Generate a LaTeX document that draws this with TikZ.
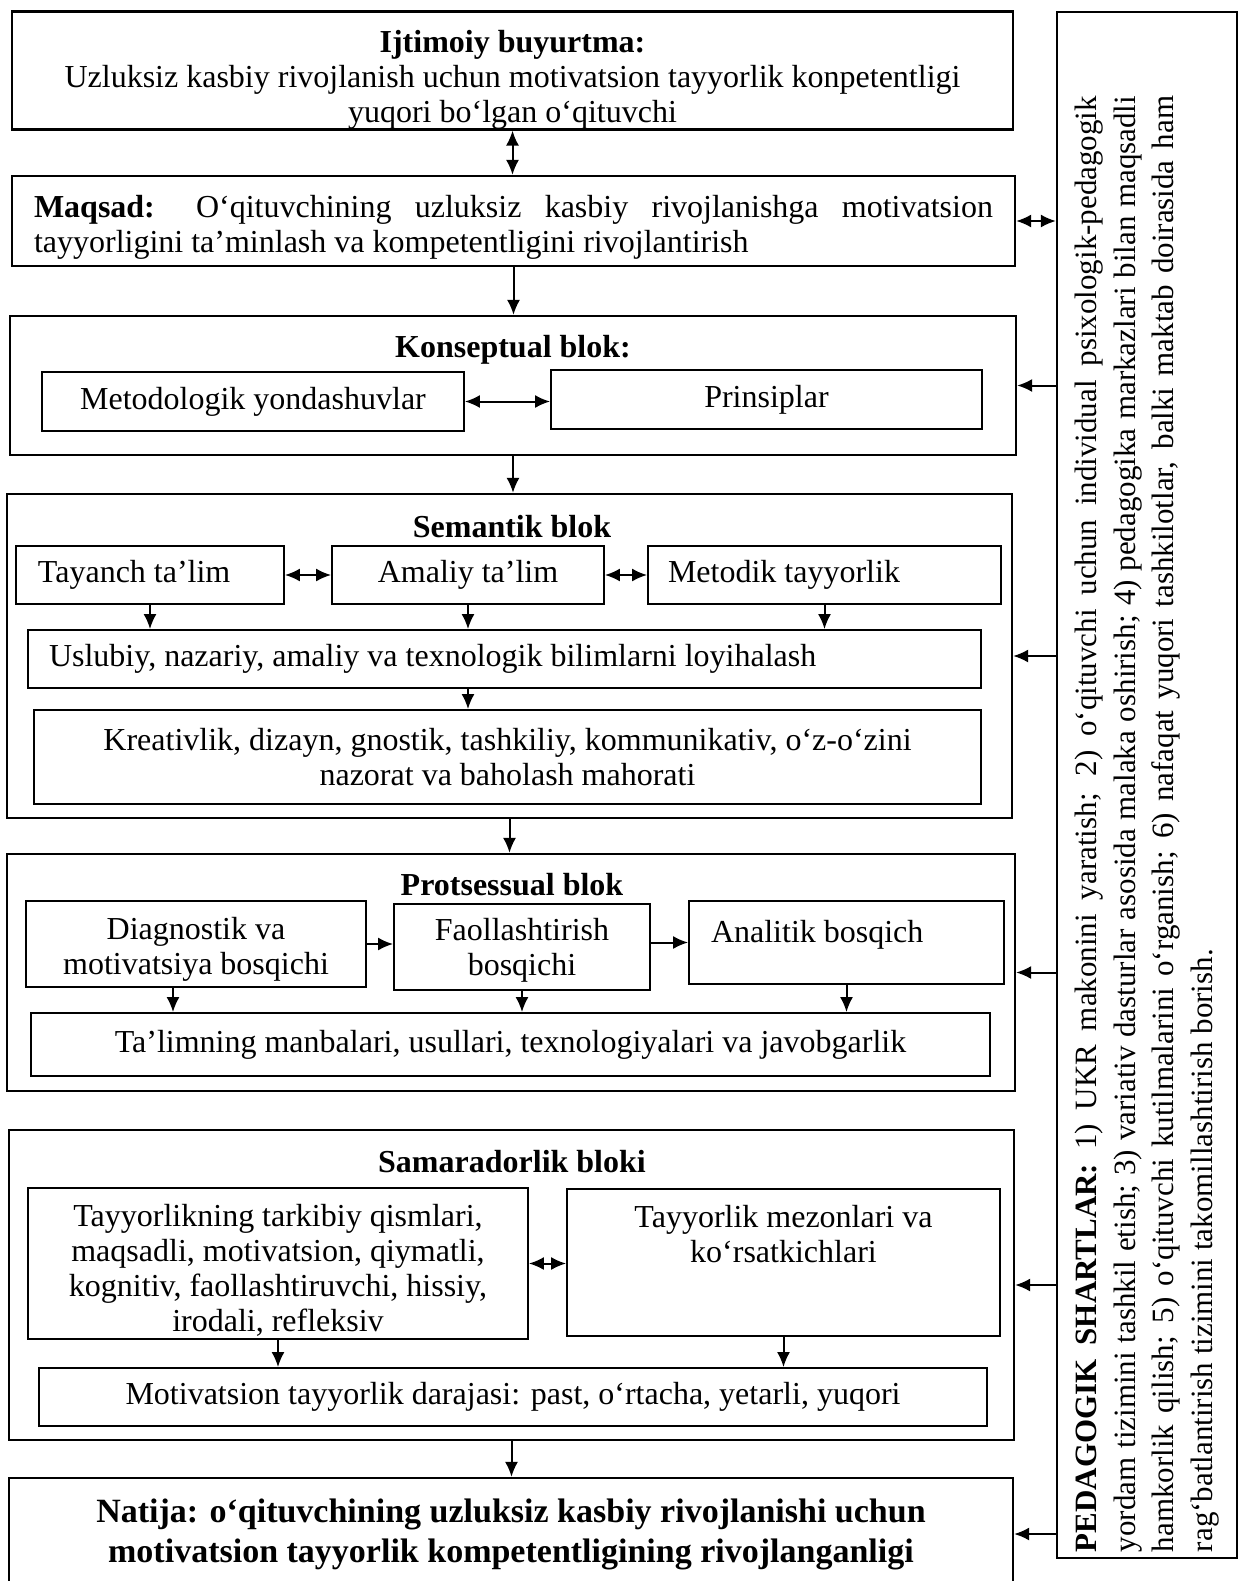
\documentclass[tikz,border=0pt]{standalone}
\usepackage{fontspec}
\setmainfont{Liberation Serif}
\usetikzlibrary{arrows.meta}

\tikzset{
  frame/.style={draw, line width=1.1pt, inner sep=0pt},
  blok/.style={draw, line width=0.9pt, inner sep=0pt, align=center},
  title/.style={font=\fontsize{16}{17.5}\selectfont\bfseries, inner sep=0pt},
  arr/.style={-{Latex[length=7.5pt,width=6.5pt]}, line width=1pt},
  darr/.style={{Latex[length=7.5pt,width=6.5pt]}-{Latex[length=7.5pt,width=6.5pt]}, line width=1pt},
}

\begin{document}
\begin{tikzpicture}[x=0.5pt, y=-0.5pt, font=\fontsize{16}{17.5}\selectfont]
\useasboundingbox (0,0) rectangle (1239,1581);
\clip (0,0) rectangle (1239,1581);

% Ijtimoiy buyurtma va maqsad
\node[frame, minimum width=500.5pt, minimum height=58.5pt, align=center] (buyurtma) at (512.5,70.5)
  {\rule{0pt}{20.5pt}\textbf{Ijtimoiy buyurtma:}\\ Uzluksiz kasbiy rivojlanish uchun motivatsion tayyorlik konpetentligi\\ yuqori bo‘lgan o‘qituvchi};
\node[frame, minimum width=501.5pt, minimum height=45pt, text width=479.5pt, align=justify] (maqsad) at (513.5,221)
  {\rule{0pt}{17.5pt}\textbf{Maqsad:} O‘qituvchining uzluksiz kasbiy rivojlanishga motivatsion\linebreak tayyorligini ta’minlash va kompetentligini rivojlantirish};

% Konseptual blok
\node[frame, minimum width=503pt, minimum height=69.5pt] (konsep) at (513,385.5) {};
\node[title] (konsepT) at (513,350) {Konseptual blok:};
\node[blok, minimum width=211pt, minimum height=29.5pt] (metod) at (253,401.5) {Metodologik yondashuvlar};
\node[blok, minimum width=215.5pt, minimum height=29.5pt] (prinsip) at (766.5,399.5) {Prinsiplar};

% Semantik blok
\node[frame, minimum width=502.5pt, minimum height=162pt] (semantik) at (509.5,656) {};
\node[title] (semantikT) at (512,527) {Semantik blok};
\node[blok, minimum width=134pt, minimum height=29pt, text width=112pt, align=justify] (tayanch) at (150,575) {Tayanch ta’lim};
\node[blok, minimum width=136pt, minimum height=29pt] (amaliy) at (468,575) {Amaliy ta’lim};
\node[blok, minimum width=176.5pt, minimum height=29pt, text width=156.5pt, align=justify] (metodik) at (824.5,575) {Metodik tayyorlik};
\node[blok, minimum width=476.5pt, minimum height=29pt, text width=455.5pt, align=justify] (uslub) at (504.5,659)
  {Uslubiy, nazariy, amaliy va texnologik bilimlarni loyihalash};
\node[blok, minimum width=473.5pt, minimum height=47pt] (kreativ) at (507.5,757)
  {Kreativlik, dizayn, gnostik, tashkiliy, kommunikativ, o‘z-o‘zini\\ nazorat va baholash mahorati};

% Protsessual blok
\node[frame, minimum width=504pt, minimum height=118.5pt] (protses) at (511,972.5) {};
\node[title] (protsesT) at (512,885) {Protsessual blok};
\node[blok, minimum width=170pt, minimum height=43pt] (diag) at (196,944) {\rule{0pt}{16pt}Diagnostik va\\ motivatsiya bosqichi};
\node[blok, minimum width=128pt, minimum height=43pt] (faol) at (522,947) {\rule{0pt}{14pt}Faollashtirish\\ bosqichi};
\node[blok, minimum width=157.5pt, minimum height=41.5pt, text width=135.5pt, align=justify] (analitik) at (846.5,942.5)
  {Analitik bosqich\\[-6pt]\mbox{}};
\node[blok, minimum width=479.5pt, minimum height=31.5pt] (talim) at (510.5,1044.5)
  {Ta’limning manbalari, usullari, texnologiyalari va javobgarlik};

% Samaradorlik bloki
\node[frame, minimum width=502.5pt, minimum height=155pt] (samara) at (511.5,1285) {};
\node[title] (samaraT) at (512,1162) {Samaradorlik bloki};
\node[blok, minimum width=250pt, minimum height=75.5pt] (tarkib) at (278,1263.5)
  {\rule{0pt}{18pt}Tayyorlikning tarkibiy qismlari,\\ maqsadli, motivatsion, qiymatli,\\ kognitiv, faollashtiruvchi, hissiy,\\ irodali, refleksiv};
\node[blok, minimum width=216.5pt, minimum height=73.5pt] (mezon) at (783.5,1262.5)
  {Tayyorlik mezonlari va\\ ko‘rsatkichlari\\[11pt]\mbox{}};
\node[blok, minimum width=474pt, minimum height=29pt] (daraja) at (513,1397)
  {Motivatsion tayyorlik darajasi: past, o‘rtacha, yetarli, yuqori};

% Natija
\node[frame, align=center, minimum width=502pt, minimum height=56pt, font=\fontsize{17}{20}\selectfont\bfseries] (natija) at (511,1534)
  {Natija: o‘qituvchining uzluksiz kasbiy rivojlanishi uchun\\ motivatsion tayyorlik kompetentligining rivojlanganligi};

% Pedagogik shartlar (o'ng tomon)
\node[frame, rotate=90, inner xsep=3pt, inner ysep=0pt, minimum height=90pt, text width=767pt, align=justify,
      font=\fontsize{15.5}{19.4}\selectfont] (shart) at (1147,785)
  {\makebox[728pt][s]{\textbf{PEDAGOGIK SHARTLAR:} 1) UKR makonini yaratish; 2) o‘qituvchi uchun individual psixologik-pedagogik}\\
   \makebox[728pt][s]{yordam tizimini tashkil etish; 3) variativ dasturlar asosida malaka oshirish; 4) pedagogika markazlari bilan maqsadli}\\
   \makebox[728pt][s]{hamkorlik qilish; 5) o‘qituvchi kutilmalarini o‘rganish; 6) nafaqat yuqori tashkilotlar, balki maktab doirasida ham}\\
   rag‘batlantirish tizimini takomillashtirish borish.};

% Bog'lanishlar
\draw[darr] (buyurtma.south) -- (buyurtma.south |- maqsad.north);
\draw[arr] (maqsad.south) -- (maqsad.south |- konsep.north);
\draw[darr] (metod.east) -- (metod.east -| prinsip.west);
\draw[arr] (konsep.south) -- (konsep.south |- semantik.north);

\draw[darr] (tayanch) -- (amaliy);
\draw[darr] (amaliy) -- (metodik);
\foreach \n in {tayanch, amaliy, metodik}
  \draw[arr] (\n.south) -- (\n.south |- uslub.north);
\draw[arr] (amaliy.south |- uslub.south) -- (amaliy.south |- kreativ.north);
\draw[arr] (semantik.south) -- (semantik.south |- protses.north);

\draw[arr] (diag.east) -- (diag.east -| faol.west);
\draw[arr] (faol.east |- analitik.west) -- (analitik.west);
\coordinate (d1) at ([xshift=-11.5pt]diag.south);
\draw[arr] (d1) -- (d1 |- talim.north);
\foreach \n in {faol, analitik}
  \draw[arr] (\n.south) -- (\n.south |- talim.north);

\draw[darr] (tarkib.east) -- (tarkib.east -| mezon.west);
\foreach \n in {tarkib, mezon}
  \draw[arr] (\n.south) -- (\n.south |- daraja.north);
\draw[arr] (samara.south) -- (samara.south |- natija.north);

\draw[darr] (maqsad.east) -- (maqsad.east -| shart.north);
\foreach \n in {konsep, semantik, protses, samara, natija}
  \draw[arr] (shart.north |- \n.east) -- (\n.east);

\end{tikzpicture}
\end{document}
